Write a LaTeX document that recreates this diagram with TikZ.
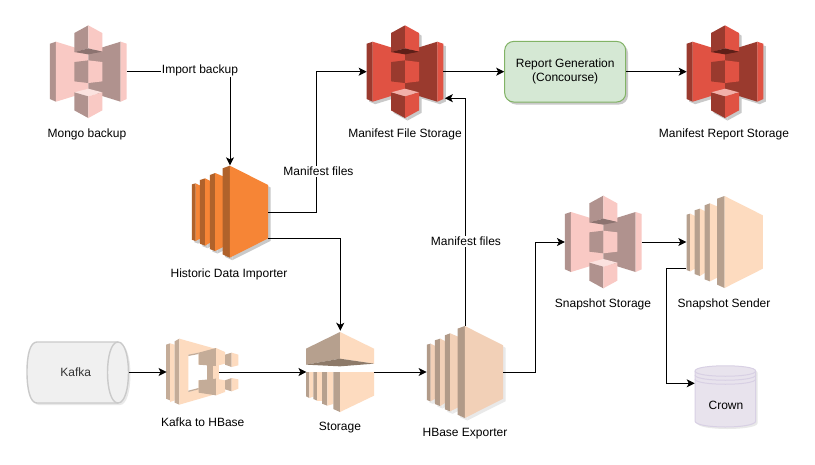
\documentclass[tikz,border=0pt]{standalone}
\usepackage{fontspec}
\setmainfont{Liberation Sans}
\usetikzlibrary{arrows.meta,calc}
\definecolor{redL}{HTML}{E05243}\definecolor{redD}{HTML}{9A3A2E}\definecolor{redT}{HTML}{F2B0A9}\definecolor{redU}{HTML}{5E1F18}
\definecolor{pinkL}{HTML}{F9C9C4}\definecolor{pinkD}{HTML}{B0928E}\definecolor{pinkT}{HTML}{FBE2DF}\definecolor{pinkU}{HTML}{8C7370}
\definecolor{peachL}{HTML}{FDDBBF}\definecolor{peachD}{HTML}{B6A08E}\definecolor{peachU}{HTML}{8D7A69}\definecolor{peachM}{HTML}{C4AC98}
\definecolor{hbL}{HTML}{F2D0B7}\definecolor{hbD}{HTML}{B19A88}
\definecolor{orgL}{HTML}{F68536}\definecolor{orgD}{HTML}{B0622B}
\definecolor{shadeA}{HTML}{C9C9C9}\definecolor{shadeB}{HTML}{E9E9E9}
\definecolor{kafkaF}{HTML}{F0F0F0}\definecolor{kafkaS}{HTML}{CACACA}
\definecolor{crownF}{HTML}{E8E3ED}\definecolor{crownS}{HTML}{D8D0E4}
\definecolor{repF}{HTML}{D5E8D4}\definecolor{repS}{HTML}{82B366}
\tikzset{
  conn/.style={draw=black,line width=1pt,-{Stealth[length=8pt,width=8pt,inset=2pt]}},
  spot/.style={inner sep=0pt,outer sep=0pt,minimum width=76.7pt,minimum height=92.7pt},
  captext/.style={inner sep=0pt,font=\fontsize{12}{14}\selectfont,align=center},
  edgelabel/.style={captext,fill=white,inner sep=1pt},
  zoomed/.style={x=0.33333pt,y=-0.33333pt}
}
% S3 bucket: light, dark, lid, underside
\newcommand\bucketbody[4]{%
  \fill[#2] (60,72)--(78,66)--(78,246)--(60,238)--cycle;
  \fill[#1] (78,66)--(175,96)--(175,216)--(78,246)--cycle;
  \fill[#2] (175,96)--(272,66)--(272,246)--(175,216)--cycle;
  \fill[#1] (272,66)--(290,72)--(290,238)--(272,246)--cycle;
  \fill[#2] (133,40)--(175,17)--(175,86)--(133,97)--cycle;
  \fill[#1] (175,17)--(217,40)--(217,96)--(175,86)--cycle;
  \fill[#4] (133,97)--(175,86)--(217,96)--(175,104)--cycle;
  \fill[#2] (133,127)--(175,122)--(175,190)--(133,185)--cycle;
  \fill[#1] (175,122)--(217,127)--(217,185)--(175,190)--cycle;
  \fill[#3] (133,218)--(175,207)--(217,218)--(175,230)--cycle;
  \fill[#2] (133,218)--(175,230)--(175,295)--(133,272)--cycle;
  \fill[#1] (175,230)--(217,218)--(217,272)--(175,295)--cycle;
}
\newcommand\bucket[7]{% x y light dark lid under shadow
  \begin{scope}[shift={(#1+2.5,#2+2.5)},zoomed,shift={(-175,-156)}]
    \bucketbody{#7}{#7}{#7}{#7}
  \end{scope}
  \begin{scope}[shift={(#1,#2)},zoomed,shift={(-175,-156)}]
    \bucketbody{#3}{#4}{#5}{#6}
  \end{scope}
}
% EC2 instance: light, dark
\newcommand\serverbody[2]{%
  \fill[#2] (36,88)--(47,85)--(47,258)--(36,254)--cycle;
  \fill[#1] (47,85)--(62,92)--(62,250)--(47,258)--cycle;
  \fill[#2] (60,75)--(76,70)--(76,272)--(60,266)--cycle;
  \fill[#1] (76,70)--(92,78)--(92,262)--(76,272)--cycle;
  \fill[#2] (90,60)--(106,54)--(106,288)--(90,282)--cycle;
  \fill[#1] (106,54)--(130,64)--(130,276)--(106,288)--cycle;
  \fill[#2] (128,40)--(150,32)--(150,308)--(128,298)--cycle;
  \fill[#1] (150,32)--(265,90)--(265,250)--(150,308)--cycle;
}
\newcommand\server[5]{% x y light dark shadow
  \begin{scope}[shift={(#1+2.5,#2+2.5)},zoomed,shift={(-150.5,-170)}]
    \serverbody{#5}{#5}
  \end{scope}
  \begin{scope}[shift={(#1,#2)},zoomed,shift={(-150.5,-170)}]
    \serverbody{#3}{#4}
  \end{scope}
}
\begin{document}
\begin{tikzpicture}[x=1pt,y=-1pt]
\useasboundingbox (0,0) rectangle (815,464);
\fill[white] (0,0) rectangle (815,464);

% icons
\bucket{88.3}{71.7}{pinkL}{pinkD}{pinkT}{pinkU}{white}
\bucket{405}{71.7}{redL}{redD}{redT}{redU}{shadeA}
\bucket{725}{71.7}{redL}{redD}{redT}{redU}{shadeA}
\bucket{603.3}{242}{pinkL}{pinkD}{pinkT}{pinkU}{white}
\server{230}{211.7}{orgL}{orgD}{shadeA}
\server{465}{372}{hbL}{hbD}{shadeB}
\server{724.7}{242}{peachL}{peachD}{white}

% Kafka to HBase icon
\begin{scope}[shift={(160,332)},zoomed]
  \fill[peachM] (18,38)--(30,34)--(30,205)--(18,200)--cycle;
  \fill[peachL] (30,34)--(44,38)--(44,205)--(30,210)--cycle;
  \fill[peachM] (44,28)--(58,20)--(58,218)--(44,212)--cycle;
  \fill[peachL,even odd rule] (58,20)--(165,50)--(165,187)--(58,218)--cycle
     (85,68)--(116,62)--(116,98)--(142,98)--(142,144)--(116,144)--(116,172)--(85,180)--cycle;
  \fill[peachM] (85,68)--(116,62)--(116,66)--(85,72)--cycle (85,176)--(116,168)--(116,172)--(85,180)--cycle;
  \fill[peachM] (142,96)--(160,96)--(160,144)--(142,144)--cycle;
  \fill[peachL] (160,96)--(178,96)--(178,144)--(160,144)--cycle;
  \fill[peachM] (116,62)--(168,48)--(168,102)--(116,98)--cycle;
  \fill[peachL] (168,48)--(195,60)--(195,95)--(168,102)--cycle;
  \fill[peachM] (195,68)--(215,62)--(215,105)--(195,98)--cycle;
  \fill[peachL] (215,62)--(235,68)--(235,100)--(215,105)--cycle;
  \fill[peachM] (116,145)--(168,140)--(168,190)--(116,182)--cycle;
  \fill[peachL] (168,140)--(195,145)--(195,180)--(168,190)--cycle;
  \fill[peachM] (195,145)--(215,138)--(215,178)--(195,172)--cycle;
  \fill[peachL] (215,138)--(235,142)--(235,170)--(215,178)--cycle;
\end{scope}

% Storage icon
\begin{scope}[shift={(300,328)},zoomed]
  \fill[peachD] (18,62)--(120,12)--(120,92)--(18,110)--cycle;
  \fill[peachL] (120,12)--(222,62)--(222,107)--(120,92)--cycle;
  \fill[peachU] (18,110)--(120,92)--(222,107)--(120,115)--cycle;
  \fill[peachD] (18,132)--(28,132)--(28,210)--(18,205)--cycle;
  \fill[peachL] (28,132)--(40,132)--(40,206)--(28,210)--cycle;
  \fill[peachD] (40,132)--(52,132)--(52,218)--(40,213)--cycle;
  \fill[peachL] (52,132)--(66,132)--(66,218)--(52,218)--cycle;
  \fill[peachD] (66,132)--(82,132)--(82,233)--(66,227)--cycle;
  \fill[peachL] (82,132)--(100,132)--(100,228)--(82,233)--cycle;
  \fill[peachD] (100,132)--(120,132)--(120,252)--(100,243)--cycle;
  \fill[peachL] (120,132)--(222,132)--(222,203)--(120,252)--cycle;
\end{scope}

% Kafka cylinder
\fill[shadeB,shift={(2,2)}] (118,342)--(37,342) .. controls (30,342) and (27,355) .. (27,372) .. controls (27,389) and (30,403) .. (37,403)--(118,403) .. controls (132,403) and (132,342) .. (118,342)--cycle;
\draw[draw=kafkaS,fill=kafkaF,line width=1.4pt] (118,342)--(37,342) .. controls (30,342) and (27,355) .. (27,372) .. controls (27,389) and (30,403) .. (37,403)--(118,403) .. controls (132,403) and (132,342) .. (118,342)--cycle;
\draw[draw=kafkaS,line width=1.4pt] (118,342) .. controls (104,342) and (104,403) .. (118,403);

% Crown cylinder
\fill[shadeB,shift={(2,2)}] (695,371) .. controls (695,364) and (755.7,364) .. (755.7,371)--(755.7,421) .. controls (755.7,429) and (695,429) .. (695,421)--cycle;
\draw[draw=crownS,fill=crownF,line width=1pt] (695,371) .. controls (695,364) and (755.7,364) .. (755.7,371)--(755.7,421) .. controls (755.7,429) and (695,429) .. (695,421)--cycle;
\draw[draw=crownS,line width=1pt] (695,371) .. controls (695,378) and (755.7,378) .. (755.7,371);
\draw[draw=crownS,line width=1pt] (695,375) .. controls (695,382) and (755.7,382) .. (755.7,375);
\draw[draw=crownS,line width=1pt] (695,379) .. controls (695,386) and (755.7,386) .. (755.7,379);

% Report box
\fill[rounded corners=9pt,shadeA] (507,44) rectangle (628,104.5);
\node[draw=repS,fill=repF,line width=1pt,rounded corners=9pt,inner sep=0pt,minimum width=121pt,minimum height=60.6pt,font=\fontsize{12}{14}\selectfont,align=center] (report) at (565.2,71.7) {Report Generation\\(Concourse)};

% anchor nodes
\node[spot] (mongo) at (88.3,71.7) {};
\node[spot] (mfs) at (405,71.7) {};
\node[spot] (mrs) at (725,71.7) {};
\node[spot] (snapstore) at (603.3,242) {};
\node[spot] (importer) at (230,211.7) {};
\node[spot] (hbase) at (465,372) {};
\node[spot] (sender) at (724.7,242) {};
\node[inner sep=0pt,minimum width=52.5pt,minimum height=66.7pt] (khbase) at (193,372) {};
\node[inner sep=0pt,minimum width=67.3pt,minimum height=82pt] (storage) at (340.3,372) {};
\node[inner sep=0pt,minimum width=102pt,minimum height=61pt] (kafka) at (77.5,372) {};
\node[inner sep=0pt,minimum width=60.7pt,minimum height=62pt] (crown) at (725.3,397) {};

% texts
\node[captext] (tmongo) at (87,134) {Mongo backup};
\node[captext] (tmfs) at (405,134) {Manifest File Storage};
\node[captext] (tmrs) at (724,134) {Manifest Report Storage};
\node[captext] (timp) at (229,274) {Historic Data Importer};
\node[captext] (tsnap) at (603,304) {Snapshot Storage};
\node[captext] (tsend) at (724,304) {Snapshot Sender};
\node[captext] (tkh) at (202.7,422) {Kafka to HBase};
\node[captext] (tsto) at (340,428) {Storage};
\node[captext] (thb) at (465,434) {HBase Exporter};
\node[captext,text=black!80] (tkafka) at (75.7,372.5) {Kafka};
\node[captext] (tcrown) at (726,405) {Crown};

% connectors
\draw[conn] (mongo.east) -| (importer.north);
\draw[conn] ($(importer.east)+(0,0.6)$) -- ++(48,0) |- (mfs.west);
\draw[conn] ($(importer.east)+(0,26.6)$) -| (storage.north);
\draw[conn] (mfs.east) -- (report.west);
\draw[conn] (report.east) -- (mrs.west);
\draw[conn] (kafka.east) -- (khbase.west);
\draw[conn] (khbase.east) -- (storage.west);
\draw[conn] (storage.east) -- (hbase.west);
\draw[conn] (hbase.north) |- ($(mfs.east)+(1.5,26.5)$);
\draw[conn] (hbase.east) -- ++(32,0) |- (snapstore.west);
\draw[conn] (snapstore.east) -- (sender.west);
\draw[conn] ($(sender.west)+(0,26.3)$) -- ++(-19.5,0) |- (crown.west |- 0,383.3);

% connector labels
\node[edgelabel] (limport) at (200,70.5) {Import backup};
\node[edgelabel] (lman1) at (318.5,171.5) {Manifest files};
\node[edgelabel] (lman2) at (466,241.5) {Manifest files};
\end{tikzpicture}
\end{document}
